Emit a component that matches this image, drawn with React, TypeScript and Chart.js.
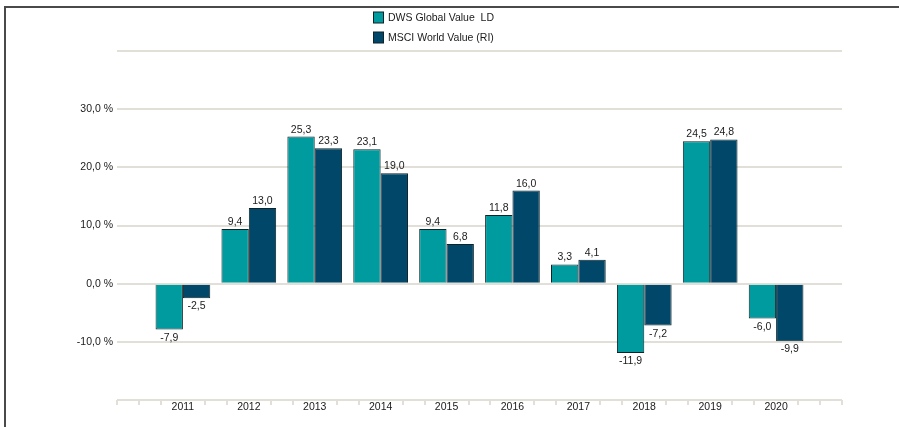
import { useEffect, useRef } from 'react';
import { Chart, registerables } from 'chart.js';

Chart.register(...registerables);

// ---- data ----
const categories = ['', '2011', '2012', '2013', '2014', '2015', '2016', '2017', '2018', '2019', '2020', ''];
const dwsValues = [null, -7.9, 9.4, 25.3, 23.1, 9.4, 11.8, 3.3, -11.9, 24.5, -6.0, null];
const msciValues = [null, -2.5, 13.0, 23.3, 19.0, 6.8, 16.0, 4.1, -7.2, 24.8, -9.9, null];
const seriesNames = ['DWS Global Value  LD', 'MSCI World Value (RI)'];
const yMin = -20;
const yMax = 40;
const yStep = 10;
const yLabelMin = -10;
const yLabelMax = 30;

const TEAL = '#009b9e';
const NAVY = '#00476a';
const BAR_BORDER = '#0f2328';
const GRID = '#e2dfd9';
const TEXT = '#1a1a1a';
const FONT = '"Liberation Sans", Arial, sans-serif';
const FONT_SIZE = 10.5;

const fmt = (v: number) => v.toFixed(1).replace('.', ',');

const extrasPlugin = {
  id: 'extras',
  afterDatasetsDraw(chart: any) {
    const ctx = chart.ctx;
    ctx.save();
    ctx.font = `${FONT_SIZE}px ${FONT}`;
    ctx.fillStyle = TEXT;
    ctx.textAlign = 'center';
    chart.data.datasets.forEach((ds: any, di: number) => {
      const meta = chart.getDatasetMeta(di);
      meta.data.forEach((el: any, i: number) => {
        const v = ds.data[i];
        if (v === null || v === undefined) return;
        if (v >= 0) {
          ctx.textBaseline = 'alphabetic';
          ctx.fillText(fmt(v), el.x, el.y - 4);
        } else {
          ctx.textBaseline = 'top';
          ctx.fillText(fmt(v), el.x, el.y + 3);
        }
      });
    });
    ctx.restore();
  },
  afterDraw(chart: any) {
    const ctx = chart.ctx;
    const xs = chart.scales.x;
    const ys = chart.scales.y;
    ctx.save();
    // minor ticks on the x axis
    const yAxis = ys.getPixelForValue(yMin);
    ctx.fillStyle = GRID;
    const n = (categories.length - 1) * 3;
    for (let i = 0; i <= n; i++) {
      if (i % 3 === 0 && i !== 0 && i !== n) continue;
      const px = xs.getPixelForValue(i / 3);
      ctx.fillRect(Math.round(px) - 1, yAxis, 2, 5);
    }
    // frame
    ctx.fillStyle = '#4a4a4a';
    ctx.fillRect(4, 6, chart.width - 4, 2);
    ctx.fillRect(4, 6, 2, chart.height - 6);
    // legend
    ctx.font = `${FONT_SIZE}px ${FONT}`;
    ctx.textAlign = 'left';
    ctx.textBaseline = 'middle';
    const colors = [TEAL, NAVY];
    seriesNames.forEach((name, k) => {
      const cy = 17.5 + k * 20;
      ctx.fillStyle = colors[k];
      ctx.fillRect(373.5, cy - 5.5, 10, 11);
      ctx.strokeStyle = BAR_BORDER;
      ctx.lineWidth = 1;
      ctx.strokeRect(373.5, cy - 5.5, 10, 11);
      ctx.fillStyle = TEXT;
      ctx.fillText(name, 388, cy + 0.5);
    });
    ctx.restore();
  },
};

export default function App() {
  const ref = useRef<HTMLCanvasElement | null>(null);
  useEffect(() => {
    if (!ref.current) return;
    const chart = new Chart(ref.current, {
      type: 'bar',
      data: {
        labels: categories,
        datasets: [
          {
            label: seriesNames[0],
            data: dwsValues,
            backgroundColor: TEAL,
            borderColor: BAR_BORDER,
            borderWidth: 1,
            categoryPercentage: 0.83,
            barPercentage: 1.0,
          },
          {
            label: seriesNames[1],
            data: msciValues,
            backgroundColor: NAVY,
            borderColor: BAR_BORDER,
            borderWidth: 1,
            categoryPercentage: 0.83,
            barPercentage: 1.0,
          },
        ],
      },
      options: {
        responsive: false,
        animation: false,
        layout: { padding: { left: 0, top: 51, right: 57, bottom: 0 } },
        plugins: {
          legend: { display: false },
          tooltip: { enabled: false },
        },
        scales: {
          x: {
            type: 'category',
            offset: false,
            grid: { display: false, drawTicks: false },
            border: { display: false },
            ticks: {
              autoSkip: false,
              maxRotation: 0,
              padding: 1,
              color: TEXT,
              font: { family: FONT, size: FONT_SIZE },
            },
            afterFit(scale: any) {
              scale.height = 27;
            },
          },
          y: {
            min: yMin,
            max: yMax,
            grid: { color: GRID, lineWidth: 2, drawTicks: false },
            border: { display: false },
            ticks: {
              stepSize: yStep,
              padding: 4,
              color: TEXT,
              font: { family: FONT, size: FONT_SIZE },
              callback: (v: any) => (v >= yLabelMin && v <= yLabelMax ? fmt(Number(v)) + ' %' : ''),
            },
            afterFit(scale: any) {
              scale.width = 117;
            },
          },
        },
      },
      plugins: [extrasPlugin],
    });
    return () => chart.destroy();
  }, []);
  return (
    <div style={{ position: 'absolute', left: 0, top: 0, width: 899, height: 427, background: '#fff' }}>
      <canvas ref={ref} width={899} height={427} style={{ display: 'block' }} />
    </div>
  );
}
